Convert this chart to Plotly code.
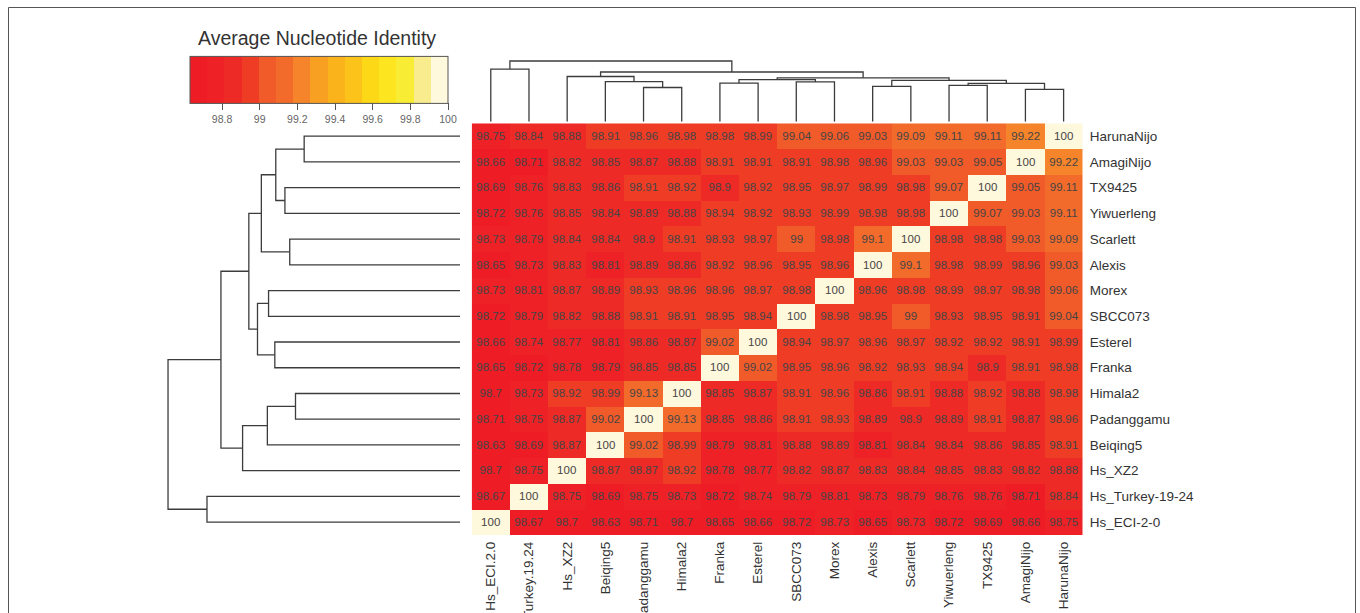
import plotly.graph_objects as go

# ---------------- data ----------------
col_labels = ["Hs_ECI.2.0", "Hs_Turkey.19.24", "Hs_XZ2", "Beiqing5", "Padanggamu", "Himala2",
              "Franka", "Esterel", "SBCC073", "Morex", "Alexis", "Scarlett", "Yiwuerleng",
              "TX9425", "AmagiNijo", "HarunaNijo"]
row_labels = ["HarunaNijo", "AmagiNijo", "TX9425", "Yiwuerleng", "Scarlett", "Alexis", "Morex",
              "SBCC073", "Esterel", "Franka", "Himala2", "Padanggamu", "Beiqing5", "Hs_XZ2",
              "Hs_Turkey-19-24", "Hs_ECI-2-0"]

ani_HarunaNijo = [98.75, 98.84, 98.88, 98.91, 98.96, 98.98, 98.98, 98.99, 99.04, 99.06, 99.03, 99.09, 99.11, 99.11, 99.22, 100]
ani_AmagiNijo = [98.66, 98.71, 98.82, 98.85, 98.87, 98.88, 98.91, 98.91, 98.91, 98.98, 98.96, 99.03, 99.03, 99.05, 100, 99.22]
ani_TX9425 = [98.69, 98.76, 98.83, 98.86, 98.91, 98.92, 98.9, 98.92, 98.95, 98.97, 98.99, 98.98, 99.07, 100, 99.05, 99.11]
ani_Yiwuerleng = [98.72, 98.76, 98.85, 98.84, 98.89, 98.88, 98.94, 98.92, 98.93, 98.99, 98.98, 98.98, 100, 99.07, 99.03, 99.11]
ani_Scarlett = [98.73, 98.79, 98.84, 98.84, 98.9, 98.91, 98.93, 98.97, 99, 98.98, 99.1, 100, 98.98, 98.98, 99.03, 99.09]
ani_Alexis = [98.65, 98.73, 98.83, 98.81, 98.89, 98.86, 98.92, 98.96, 98.95, 98.96, 100, 99.1, 98.98, 98.99, 98.96, 99.03]
ani_Morex = [98.73, 98.81, 98.87, 98.89, 98.93, 98.96, 98.96, 98.97, 98.98, 100, 98.96, 98.98, 98.99, 98.97, 98.98, 99.06]
ani_SBCC073 = [98.72, 98.79, 98.82, 98.88, 98.91, 98.91, 98.95, 98.94, 100, 98.98, 98.95, 99, 98.93, 98.95, 98.91, 99.04]
ani_Esterel = [98.66, 98.74, 98.77, 98.81, 98.86, 98.87, 99.02, 100, 98.94, 98.97, 98.96, 98.97, 98.92, 98.92, 98.91, 98.99]
ani_Franka = [98.65, 98.72, 98.78, 98.79, 98.85, 98.85, 100, 99.02, 98.95, 98.96, 98.92, 98.93, 98.94, 98.9, 98.91, 98.98]
ani_Himala2 = [98.7, 98.73, 98.92, 98.99, 99.13, 100, 98.85, 98.87, 98.91, 98.96, 98.86, 98.91, 98.88, 98.92, 98.88, 98.98]
ani_Padanggamu = [98.71, 98.75, 98.87, 99.02, 100, 99.13, 98.85, 98.86, 98.91, 98.93, 98.89, 98.9, 98.89, 98.91, 98.87, 98.96]
ani_Beiqing5 = [98.63, 98.69, 98.87, 100, 99.02, 98.99, 98.79, 98.81, 98.88, 98.89, 98.81, 98.84, 98.84, 98.86, 98.85, 98.91]
ani_Hs_XZ2 = [98.7, 98.75, 100, 98.87, 98.87, 98.92, 98.78, 98.77, 98.82, 98.87, 98.83, 98.84, 98.85, 98.83, 98.82, 98.88]
ani_Hs_Turkey = [98.67, 100, 98.75, 98.69, 98.75, 98.73, 98.72, 98.74, 98.79, 98.81, 98.73, 98.79, 98.76, 98.76, 98.71, 98.84]
ani_Hs_ECI = [100, 98.67, 98.7, 98.63, 98.71, 98.7, 98.65, 98.66, 98.72, 98.73, 98.65, 98.73, 98.72, 98.69, 98.66, 98.75]

ani_rows = [ani_HarunaNijo, ani_AmagiNijo, ani_TX9425, ani_Yiwuerleng, ani_Scarlett, ani_Alexis,
            ani_Morex, ani_SBCC073, ani_Esterel, ani_Franka, ani_Himala2, ani_Padanggamu,
            ani_Beiqing5, ani_Hs_XZ2, ani_Hs_Turkey, ani_Hs_ECI]

# hierarchical clustering merges (children: leaf index in column order, or earlier merge "cN"), height
merge_left = [4, 3, 2, 0, 6, 8, "c4", 10, 12, 14, "c8", "c7", "c6", "c2", "c3"]
merge_right = [5, "c0", "c1", 1, 7, 9, "c5", 11, 13, 15, "c9", "c10", "c11", "c12", "c13"]
merge_height = [34.2, 40.05, 45.2, 52.6, 38.5, 39.8, 42.1, 35.4, 36.4, 32.4, 38.3, 41.3, 43.9, 49.7, 60.7]

legend_ticks = [98.8, 99.0, 99.2, 99.4, 99.6, 99.8, 100.0]
legend_ticktext = ["98.8", "99", "99.2", "99.4", "99.6", "99.8", "100"]
z_min, z_max = 98.63, 100.0
band_colors = ["#ED1C25", "#ED2126", "#EE2A26", "#EF3C25", "#F15A29", "#F26B2B", "#F5842A",
               "#F8A022", "#FAB31A", "#FCC41A", "#FDD816", "#FDE61F", "#F9EC34", "#F8EC8E", "#FEF8DC"]

# ---------------- geometry (pixels) ----------------
W, H = 1360, 613
hm_x0, hm_x1 = 471.7, 1082.7
hm_y0, hm_y1 = 123.3, 535.0
left_leaf_x = 460.0
left_scale = 4.81          # px per height unit (row dendrogram)
top_leaf_y = 121.7         # px ; 1 px per height unit (column dendrogram)

def py(y):
    return (H - y) / H

# ---------------- colorscale ----------------
n = len(band_colors)
colorscale = []
for i, c in enumerate(band_colors):
    colorscale.append([i / n, c])
    colorscale.append([(i + 1) / n, c])

text = [[f"{v:g}" for v in row] for row in ani_rows]

font_family = "Liberation Sans, Arial, sans-serif"

fig = go.Figure()
fig.add_trace(go.Heatmap(
    z=ani_rows, x=list(range(len(col_labels))), y=list(range(len(row_labels))),
    text=text, texttemplate="%{text}",
    textfont=dict(size=11.5, color="#454545", family=font_family),
    colorscale=colorscale, zmin=z_min, zmax=z_max,
    xgap=0, ygap=0,
    colorbar=dict(
        orientation="h", thickness=47, thicknessmode="pixels",
        len=258, lenmode="pixels",
        x=190 / W, xanchor="left", y=py(126), yanchor="bottom",
        xpad=0, ypad=0,
        outlinewidth=1, outlinecolor="#555555",
        ticks="outside", ticklen=7, tickcolor="#555555", tickwidth=1,
        tickvals=legend_ticks, ticktext=legend_ticktext,
        tickfont=dict(size=10.5, color="#666666", family=font_family),
    ),
    hoverinfo="skip",
))

# ---------------- dendrograms ----------------
pos = {}
hgt = {}
def child(c):
    if isinstance(c, int):
        return float(c), 0.0
    return pos[c], hgt[c]

top_x, top_y, left_x, left_y = [], [], [], []
nleaf = len(col_labels)
for i, (a, b, h) in enumerate(zip(merge_left, merge_right, merge_height)):
    pa, ha = child(a)
    pb, hb = child(b)
    pos[f"c{i}"] = (pa + pb) / 2
    hgt[f"c{i}"] = h
    # column dendrogram (top)
    top_x += [pa, pa, pb, pb, None]
    top_y += [ha, h, h, hb, None]
    # row dendrogram (left): row index = nleaf-1-col index
    ra, rb = nleaf - 1 - pa, nleaf - 1 - pb
    left_x += [ha, h, h, hb, None]
    left_y += [ra, ra, rb, rb, None]

line_style = dict(color="#3C3C3C", width=1.3)
fig.add_trace(go.Scatter(x=top_x, y=top_y, mode="lines", line=line_style,
                         xaxis="x", yaxis="y3", hoverinfo="skip", showlegend=False))
fig.add_trace(go.Scatter(x=left_x, y=left_y, mode="lines", line=line_style,
                         xaxis="x2", yaxis="y", hoverinfo="skip", showlegend=False))

# ---------------- layout ----------------
fig.update_layout(
    width=W, height=H, margin=dict(l=0, r=0, t=0, b=0),
    paper_bgcolor="white", plot_bgcolor="white",
    font=dict(family=font_family, color="#333333"),
    showlegend=False,
    xaxis=dict(domain=[hm_x0 / W, hm_x1 / W], range=[-0.5, nleaf - 0.5],
               tickmode="array", tickvals=list(range(nleaf)), ticktext=col_labels,
               tickangle=-90, ticks="", showgrid=False, zeroline=False, showline=False,
               ticklabelstandoff=3,
               tickfont=dict(size=13.5, color="#333333"), automargin=False, anchor="y"),
    yaxis=dict(domain=[py(hm_y1), py(hm_y0)], range=[nleaf - 0.5, -0.5], side="right",
               tickmode="array", tickvals=list(range(nleaf)), ticktext=row_labels,
               ticks="", showgrid=False, zeroline=False, showline=False,
               ticklabelstandoff=6,
               tickfont=dict(size=13.5, color="#333333"), automargin=False, anchor="x"),
    xaxis2=dict(domain=[0, left_leaf_x / W], range=[left_leaf_x / left_scale, 0],
                visible=False, anchor="y", fixedrange=True),
    yaxis3=dict(domain=[py(top_leaf_y), 1], range=[0, top_leaf_y],
                visible=False, anchor="x", fixedrange=True),
    annotations=[dict(text="Average Nucleotide Identity", x=316.5 / W, y=py(38),
                      xref="paper", yref="paper", xanchor="center", yanchor="middle",
                      showarrow=False, font=dict(size=19.5, color="#333333", family=font_family))],
    shapes=[dict(type="rect", xref="paper", yref="paper", x0=8.5 / W, x1=1355.5 / W,
                 y0=-0.2, y1=py(7.5), line=dict(color="#555555", width=1))],
)

fig.write_html("out.html", config={"displayModeBar": False},
               post_script="document.body.style.margin='0';document.body.style.overflow='hidden';")
